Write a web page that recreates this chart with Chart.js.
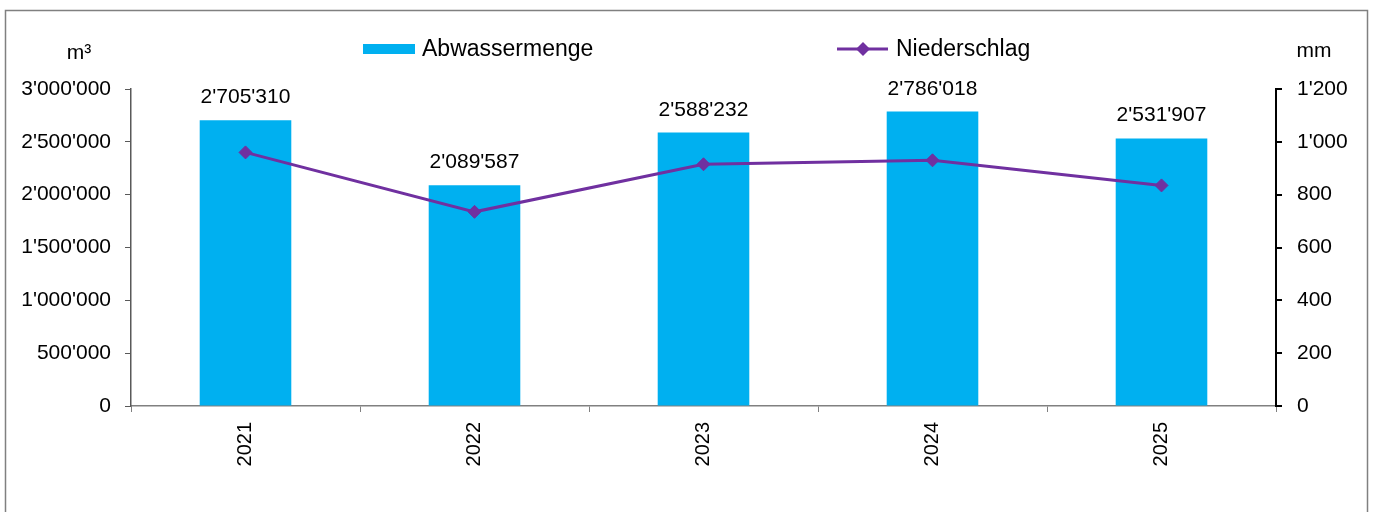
<!DOCTYPE html>
<html>
<head>
<meta charset="utf-8">
<script src="https://cdn.jsdelivr.net/npm/chart.js@4/dist/chart.umd.min.js"></script>
<style>
html,body{margin:0;padding:0;background:#fff;}
#wrap{width:1373px;height:512px;}
</style>
</head>
<body>
<div id="wrap"><canvas id="c" width="1373" height="512"></canvas></div>
<script>
const years = ['2021', '2022', '2023', '2024', '2025'];
const abwassermenge = [2705310, 2089587, 2588232, 2786018, 2531907];
const niederschlag = [960, 735, 915, 930, 835];
const leftTicks = [0, 500000, 1000000, 1500000, 2000000, 2500000, 3000000];
const rightTicks = [0, 200, 400, 600, 800, 1000, 1200];
const seriesNames = ['Abwassermenge', 'Niederschlag'];
const axisTitles = ['m³', 'mm'];

const FONT = '"Liberation Sans", Arial, sans-serif';
const BLUE = '#00B0F0';
const PURPLE = '#7030A0';

function fmt(n) {
  return String(Math.round(n)).replace(/\B(?=(\d{3})+(?!\d))/g, "'");
}

const decor = {
  id: 'decor',
  beforeDraw(chart) {
    const ctx = chart.ctx;
    ctx.save();
    ctx.fillStyle = '#fff';
    ctx.fillRect(0, 0, chart.width, chart.height);
    ctx.strokeStyle = '#808080';
    ctx.lineWidth = 1.5;
    ctx.strokeRect(5.5, 10.5, 1362, 600);
    ctx.restore();
  },
  afterDatasetsDraw(chart) {
    const ctx = chart.ctx;
    const meta = chart.getDatasetMeta(0);
    ctx.save();
    ctx.fillStyle = '#000';
    ctx.font = '21px ' + FONT;
    ctx.textAlign = 'center';
    ctx.textBaseline = 'alphabetic';
    meta.data.forEach((bar, i) => {
      ctx.fillText(fmt(abwassermenge[i]), bar.x, bar.y - 17);
    });
    ctx.restore();
  },
  afterDraw(chart) {
    const ctx = chart.ctx;
    ctx.save();
    // axis titles
    ctx.fillStyle = '#000';
    ctx.font = '21px ' + FONT;
    ctx.textAlign = 'center';
    ctx.textBaseline = 'alphabetic';
    ctx.fillText(axisTitles[0], 79, 59);
    ctx.fillText(axisTitles[1], 1314, 57);
    // legend
    const ly = 49;
    ctx.fillStyle = BLUE;
    ctx.fillRect(363, 44, 52, 10);
    ctx.fillStyle = '#000';
    ctx.font = '23px ' + FONT;
    ctx.textAlign = 'left';
    ctx.textBaseline = 'middle';
    ctx.fillText(seriesNames[0], 422, ly + 1);
    ctx.strokeStyle = PURPLE;
    ctx.lineWidth = 3;
    ctx.beginPath();
    ctx.moveTo(837, ly);
    ctx.lineTo(888, ly);
    ctx.stroke();
    ctx.fillStyle = PURPLE;
    ctx.beginPath();
    const cx = 863, r = 7;
    ctx.moveTo(cx, ly - r);
    ctx.lineTo(cx + r, ly);
    ctx.lineTo(cx, ly + r);
    ctx.lineTo(cx - r, ly);
    ctx.closePath();
    ctx.fill();
    ctx.fillStyle = '#000';
    ctx.fillText(seriesNames[1], 896, ly + 1);
    ctx.restore();
  }
};

new Chart(document.getElementById('c'), {
  type: 'bar',
  data: {
    labels: years,
    datasets: [
      {
        type: 'bar',
        label: seriesNames[0],
        data: abwassermenge,
        backgroundColor: BLUE,
        borderWidth: 0,
        yAxisID: 'y',
        barPercentage: 0.4,
        categoryPercentage: 1.0,
        order: 2
      },
      {
        type: 'line',
        label: seriesNames[1],
        data: niederschlag,
        borderColor: PURPLE,
        backgroundColor: PURPLE,
        borderWidth: 3,
        pointStyle: 'rectRot',
        pointRadius: 6.5,
        pointBorderWidth: 1,
        pointBackgroundColor: PURPLE,
        pointBorderColor: PURPLE,
        tension: 0,
        yAxisID: 'y1',
        order: 1
      }
    ]
  },
  options: {
    responsive: false,
    animation: false,
    devicePixelRatio: 1,
    layout: { padding: { top: 89, left: 0, right: 0, bottom: 0 } },
    plugins: {
      legend: { display: false },
      tooltip: { enabled: false }
    },
    scales: {
      x: {
        offset: true,
        grid: { display: true, offset: true, drawOnChartArea: false, drawTicks: true, tickLength: 6, color: '#808080' },
        border: { display: true, color: '#808080', width: 1.5 },
        ticks: {
          minRotation: 90, maxRotation: 90, padding: 10,
          color: '#000', font: { family: FONT, size: 20 }
        },
        afterFit(s) { s.height = 106; }
      },
      y: {
        position: 'left',
        min: 0, max: 3000000,
        afterBuildTicks(s) { s.ticks = leftTicks.map(v => ({ value: v })); },
        grid: { display: true, drawOnChartArea: false, drawTicks: true, tickLength: 6, color: '#595959' },
        border: { display: true, color: '#595959', width: 1.5 },
        ticks: {
          padding: 14, color: '#000', font: { family: FONT, size: 21 },
          callback: v => fmt(v)
        },
        afterFit(s) { s.width = 131; }
      },
      y1: {
        position: 'right',
        min: 0, max: 1200,
        afterBuildTicks(s) { s.ticks = rightTicks.map(v => ({ value: v })); },
        grid: { display: true, drawOnChartArea: false, drawTicks: true, tickLength: 6, color: '#000', lineWidth: 2 },
        border: { display: true, color: '#000', width: 2 },
        ticks: {
          padding: 15, color: '#000', font: { family: FONT, size: 21 },
          callback: v => fmt(v)
        },
        afterFit(s) { s.width = 97; }
      }
    }
  },
  plugins: [decor]
});
</script>
</body>
</html>
